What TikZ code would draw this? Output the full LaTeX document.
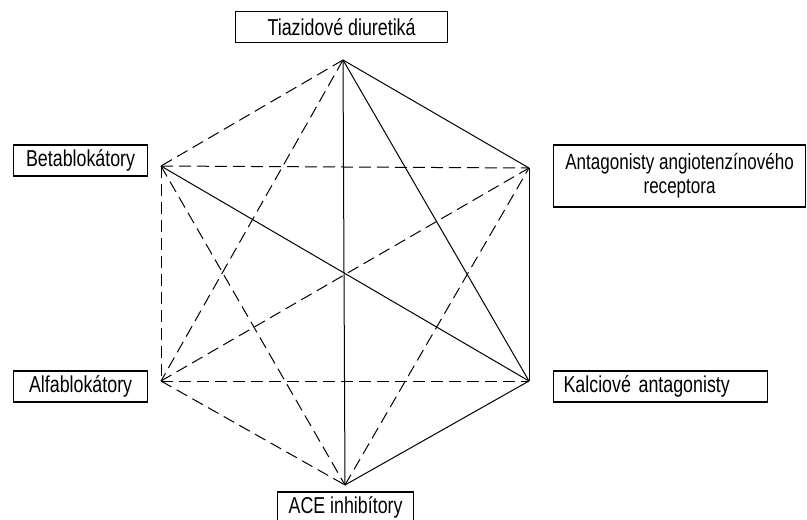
\documentclass[tikz,border=0pt]{standalone}
\usepackage{fontspec}
\setmainfont{Liberation Sans}[FakeStretch=0.775]
\begin{document}
\begin{tikzpicture}[x=1pt,y=-1pt,
    drug/.style={draw,line width=1.2pt,inner xsep=0pt,inner ysep=0pt,minimum height=31pt,font=\fontsize{23}{24}\selectfont},
    pair/.style={line width=1pt},
    weak/.style={line width=1pt,dash pattern=on 12pt off 6pt}]
        \useasboundingbox (0,0) rectangle (807,520);

        % corners of the hexagon
        \coordinate (T) at (343,60);
        \coordinate (A) at (529,168);
        \coordinate (K) at (529,381);
        \coordinate (C) at (345,485);
        \coordinate (L) at (161,381);
        \coordinate (B) at (161,166);

        \node[drug,anchor=west,minimum width=212pt] (tiaz) at (235,27) {Tiazidové diuretiká};
        \node[drug,anchor=west,minimum width=134pt] (beta) at (13,160.5) {Betablokátory};
        \node[drug,anchor=west,minimum width=252pt,minimum height=62pt,align=center,font=\fontsize{22}{24}\selectfont] (sart) at (553,176) {Antagonisty angiotenzínového\\receptora};
        \node[drug,anchor=west,inner xsep=10pt,text width=194pt,align=left] (kalc) at (553,386.5) {Kalciové antagonisty};
        \node[drug,anchor=west,minimum width=134pt] (alfa) at (13,386.5) {Alfablokátory};
        \node[drug,anchor=west,minimum width=136pt] (ace) at (277,507.5) {ACE inhibítory};

        % solid lines
        \draw[pair] (T) -- (C);
        \draw[pair] (T) -- (K);
        \draw[pair] (T) -- (A);
        \draw[pair] (B) -- (K);
        \draw[pair] (A) -- (K);
        \draw[pair] (K) -- (C);

        % dashed lines
        \draw[weak] (T) -- (B);
        \draw[weak] (T) -- (L);
        \draw[weak] (B) -- (A);
        \draw[weak] (B) -- (L);
        \draw[weak] (B) -- (C);
        \draw[weak] (L) -- (A);
        \draw[weak] (L) -- (K);
        \draw[weak] (L) -- (C);
        \draw[weak] (C) -- (A);
      \end{tikzpicture}
\end{document}
